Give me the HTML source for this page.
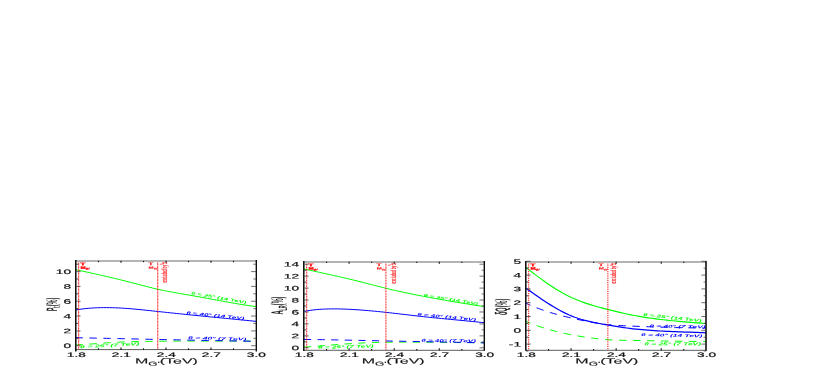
<!DOCTYPE html>
<html><head><meta charset="utf-8"><title>Figure</title>
<style>html,body{margin:0;padding:0;background:#fff;}body{width:817px;height:382px;overflow:hidden;font-family:"Liberation Sans",sans-serif;}svg{display:block;}</style>
</head><body>
<svg width="817" height="382" viewBox="0 0 817 382" text-rendering="geometricPrecision" font-family="'Liberation Sans', sans-serif">
<rect width="817" height="382" fill="#fff"/>
<defs><filter id="bl" x="-5%" y="-5%" width="110%" height="110%" color-interpolation-filters="sRGB"><feGaussianBlur stdDeviation="0.3"/></filter></defs>
<g filter="url(#bl)">
<g id="chart0">
<clipPath id="cp0"><rect x="76" y="261.35" width="180" height="88.25"/></clipPath>
<g clip-path="url(#cp0)" fill="none">
<path d="M76.00,269.75 L79.05,270.40 L82.10,271.05 L85.15,271.71 L88.20,272.37 L91.25,273.04 L94.31,273.72 L97.36,274.41 L100.41,275.10 L103.46,275.80 L106.51,276.51 L109.56,277.22 L112.61,277.94 L115.66,278.67 L118.71,279.41 L121.76,280.16 L124.81,280.92 L127.86,281.68 L130.92,282.45 L133.97,283.23 L137.02,284.02 L140.07,284.82 L143.12,285.62 L146.17,286.41 L149.22,287.19 L152.27,287.95 L155.32,288.68 L158.37,289.38 L161.42,290.04 L164.47,290.67 L167.53,291.28 L170.58,291.86 L173.63,292.42 L176.68,292.97 L179.73,293.50 L182.78,294.02 L185.83,294.54 L188.88,295.06 L191.93,295.58 L194.98,296.11 L198.03,296.65 L201.08,297.20 L204.14,297.76 L207.19,298.32 L210.24,298.89 L213.29,299.46 L216.34,300.03 L219.39,300.60 L222.44,301.16 L225.49,301.73 L228.54,302.28 L231.59,302.82 L234.64,303.36 L237.69,303.88 L240.75,304.38 L243.80,304.87 L246.85,305.33 L249.90,305.78 L252.95,306.21 L256.00,306.60" stroke="#00ff00" stroke-width="1.0"/>
<path d="M76.00,309.92 L79.05,309.44 L82.10,309.01 L85.15,308.65 L88.20,308.34 L91.25,308.10 L94.31,307.90 L97.36,307.76 L100.41,307.66 L103.46,307.61 L106.51,307.61 L109.56,307.64 L112.61,307.71 L115.66,307.82 L118.71,307.96 L121.76,308.12 L124.81,308.32 L127.86,308.54 L130.92,308.78 L133.97,309.04 L137.02,309.32 L140.07,309.62 L143.12,309.92 L146.17,310.24 L149.22,310.56 L152.27,310.89 L155.32,311.22 L158.37,311.55 L161.42,311.87 L164.47,312.20 L167.53,312.52 L170.58,312.84 L173.63,313.16 L176.68,313.48 L179.73,313.80 L182.78,314.11 L185.83,314.42 L188.88,314.73 L191.93,315.04 L194.98,315.35 L198.03,315.66 L201.08,315.96 L204.14,316.26 L207.19,316.56 L210.24,316.86 L213.29,317.16 L216.34,317.46 L219.39,317.76 L222.44,318.05 L225.49,318.35 L228.54,318.65 L231.59,318.95 L234.64,319.24 L237.69,319.54 L240.75,319.84 L243.80,320.14 L246.85,320.44 L249.90,320.74 L252.95,321.05 L256.00,321.35" stroke="#0000ff" stroke-width="1.0"/>
<path d="M76.00,344.96 L79.05,344.79 L82.10,344.61 L85.15,344.42 L88.20,344.21 L91.25,344.00 L94.31,343.78 L97.36,343.56 L100.41,343.34 L103.46,343.12 L106.51,342.91 L109.56,342.71 L112.61,342.52 L115.66,342.34 L118.71,342.18 L121.76,342.04 L124.81,341.92 L127.86,341.81 L130.92,341.73 L133.97,341.65 L137.02,341.59 L140.07,341.53 L143.12,341.48 L146.17,341.43 L149.22,341.39 L152.27,341.34 L155.32,341.30 L158.37,341.26 L161.42,341.23 L164.47,341.20 L167.53,341.17 L170.58,341.14 L173.63,341.12 L176.68,341.10 L179.73,341.08 L182.78,341.07 L185.83,341.05 L188.88,341.04 L191.93,341.04 L194.98,341.03 L198.03,341.03 L201.08,341.03 L204.14,341.03 L207.19,341.03 L210.24,341.03 L213.29,341.03 L216.34,341.04 L219.39,341.04 L222.44,341.05 L225.49,341.06 L228.54,341.06 L231.59,341.07 L234.64,341.08 L237.69,341.08 L240.75,341.09 L243.80,341.09 L246.85,341.10 L249.90,341.10 L252.95,341.10 L256.00,341.11" stroke="#00ff00" stroke-width="1.0" stroke-dasharray="7.4 6.6" stroke-dashoffset="0.6"/>
<path d="M76.00,337.70 L79.05,337.76 L82.10,337.83 L85.15,337.89 L88.20,337.96 L91.25,338.02 L94.31,338.09 L97.36,338.15 L100.41,338.22 L103.46,338.28 L106.51,338.35 L109.56,338.41 L112.61,338.48 L115.66,338.55 L118.71,338.61 L121.76,338.68 L124.81,338.74 L127.86,338.81 L130.92,338.87 L133.97,338.94 L137.02,339.00 L140.07,339.07 L143.12,339.14 L146.17,339.20 L149.22,339.27 L152.27,339.33 L155.32,339.39 L158.37,339.46 L161.42,339.52 L164.47,339.59 L167.53,339.65 L170.58,339.71 L173.63,339.77 L176.68,339.84 L179.73,339.90 L182.78,339.96 L185.83,340.02 L188.88,340.08 L191.93,340.14 L194.98,340.20 L198.03,340.26 L201.08,340.32 L204.14,340.38 L207.19,340.44 L210.24,340.50 L213.29,340.56 L216.34,340.61 L219.39,340.67 L222.44,340.73 L225.49,340.78 L228.54,340.84 L231.59,340.90 L234.64,340.95 L237.69,341.01 L240.75,341.06 L243.80,341.12 L246.85,341.17 L249.90,341.22 L252.95,341.28 L256.00,341.33" stroke="#0000ff" stroke-width="1.0" stroke-dasharray="7.4 6.6" stroke-dashoffset="0.6"/>
</g>
<line x1="78.70" y1="261.35" x2="78.70" y2="349.6" stroke="#ff0000" stroke-width="1.0" stroke-dasharray="1 0.45"/>
<line x1="157.75" y1="261.35" x2="157.75" y2="349.6" stroke="#ff0000" stroke-width="1.0" stroke-dasharray="1 0.45"/>
<text transform="translate(80.20,265.25) rotate(0.03) scale(2.2,1)" font-size="3.8" fill="#ff0000" text-anchor="start" font-weight="bold"  stroke="#ff0000" stroke-width="0.25" vector-effect="non-scaling-stroke">T</text>
<text transform="translate(80.50,268.65) rotate(0.03) scale(1.8,1)" font-size="3.4" fill="#ff0000" text-anchor="start" font-weight="bold"  stroke="#ff0000" stroke-width="0.25" vector-effect="non-scaling-stroke">M<tspan font-size="2.4" dy="0.9">G'</tspan></text>
<text transform="translate(148.25,265.25) rotate(0.03) scale(2.2,1)" font-size="3.8" fill="#ff0000" text-anchor="start" font-weight="bold"  stroke="#ff0000" stroke-width="0.08" vector-effect="non-scaling-stroke">T</text>
<text transform="translate(148.55,268.65) rotate(0.03) scale(1.8,1)" font-size="3.4" fill="#ff0000" text-anchor="start" font-weight="bold"  stroke="#ff0000" stroke-width="0.08" vector-effect="non-scaling-stroke">M<tspan font-size="2.4" dy="0.9">G'</tspan></text>
<text transform="translate(167.05,272.35) scale(2.3,1) rotate(-90)" font-size="3.3" text-anchor="middle" fill="#ff0000" stroke="#ff0000" stroke-width="0.08">excluded by tt</text>
<line x1="159.75000000000003" y1="264.35" x2="162.75000000000003" y2="263.95000000000005" stroke="#ff0000" stroke-width="0.6"/>
<line x1="76" y1="261.05" x2="256" y2="261.05" stroke="#b4b4b4" stroke-width="1.9"/>
<line x1="76" y1="349.6" x2="256" y2="349.6" stroke="#484848" stroke-width="0.9"/>
<line x1="75.8" y1="260.1" x2="75.8" y2="351.40000000000003" stroke="#000" stroke-width="1.45"/>
<line x1="256.3" y1="260.1" x2="256.3" y2="351.5" stroke="#000" stroke-width="1.3"/>
<text transform="translate(76.30,357.10) rotate(0.03) scale(2.1,1)" font-size="6.5" fill="#111" text-anchor="middle" font-weight="normal"  stroke="#111" stroke-width="0.2" vector-effect="non-scaling-stroke">1.8</text>
<line x1="98.50" y1="349.90000000000003" x2="98.50" y2="348.3" stroke="#111" stroke-width="1.1"/>
<line x1="98.50" y1="260.85" x2="98.50" y2="262.15000000000003" stroke="#111" stroke-width="1.1"/>
<line x1="121.00" y1="349.90000000000003" x2="121.00" y2="347.6" stroke="#111" stroke-width="1.1"/>
<line x1="121.00" y1="260.85" x2="121.00" y2="262.85" stroke="#111" stroke-width="1.1"/>
<text transform="translate(121.30,357.10) rotate(0.03) scale(2.1,1)" font-size="6.5" fill="#111" text-anchor="middle" font-weight="normal"  stroke="#111" stroke-width="0.2" vector-effect="non-scaling-stroke">2.1</text>
<line x1="143.50" y1="349.90000000000003" x2="143.50" y2="348.3" stroke="#111" stroke-width="1.1"/>
<line x1="143.50" y1="260.85" x2="143.50" y2="262.15000000000003" stroke="#111" stroke-width="1.1"/>
<line x1="166.00" y1="349.90000000000003" x2="166.00" y2="347.6" stroke="#111" stroke-width="1.1"/>
<line x1="166.00" y1="260.85" x2="166.00" y2="262.85" stroke="#111" stroke-width="1.1"/>
<text transform="translate(166.30,357.10) rotate(0.03) scale(2.1,1)" font-size="6.5" fill="#111" text-anchor="middle" font-weight="normal"  stroke="#111" stroke-width="0.2" vector-effect="non-scaling-stroke">2.4</text>
<line x1="188.50" y1="349.90000000000003" x2="188.50" y2="348.3" stroke="#111" stroke-width="1.1"/>
<line x1="188.50" y1="260.85" x2="188.50" y2="262.15000000000003" stroke="#111" stroke-width="1.1"/>
<line x1="211.00" y1="349.90000000000003" x2="211.00" y2="347.6" stroke="#111" stroke-width="1.1"/>
<line x1="211.00" y1="260.85" x2="211.00" y2="262.85" stroke="#111" stroke-width="1.1"/>
<text transform="translate(211.30,357.10) rotate(0.03) scale(2.1,1)" font-size="6.5" fill="#111" text-anchor="middle" font-weight="normal"  stroke="#111" stroke-width="0.2" vector-effect="non-scaling-stroke">2.7</text>
<line x1="233.50" y1="349.90000000000003" x2="233.50" y2="348.3" stroke="#111" stroke-width="1.1"/>
<line x1="233.50" y1="260.85" x2="233.50" y2="262.15000000000003" stroke="#111" stroke-width="1.1"/>
<text transform="translate(256.30,357.10) rotate(0.03) scale(2.1,1)" font-size="6.5" fill="#111" text-anchor="middle" font-weight="normal"  stroke="#111" stroke-width="0.2" vector-effect="non-scaling-stroke">3.0</text>
<line x1="76" y1="345.70" x2="80.6" y2="345.70" stroke="#4a4a4a" stroke-width="0.8"/>
<line x1="256" y1="345.70" x2="251.1" y2="345.70" stroke="#333" stroke-width="0.7"/>
<text transform="translate(71.00,348.10) rotate(0.03) scale(2.1,1)" font-size="6.5" fill="#111" text-anchor="end" font-weight="normal"  stroke="#111" stroke-width="0.2" vector-effect="non-scaling-stroke">0</text>
<line x1="76" y1="338.29" x2="78.4" y2="338.29" stroke="#222" stroke-width="0.8"/>
<line x1="256" y1="338.29" x2="253.29999999999998" y2="338.29" stroke="#333" stroke-width="0.7"/>
<line x1="76" y1="330.88" x2="80.6" y2="330.88" stroke="#4a4a4a" stroke-width="0.8"/>
<line x1="256" y1="330.88" x2="251.1" y2="330.88" stroke="#333" stroke-width="0.7"/>
<text transform="translate(71.00,333.28) rotate(0.03) scale(2.1,1)" font-size="6.5" fill="#111" text-anchor="end" font-weight="normal"  stroke="#111" stroke-width="0.2" vector-effect="non-scaling-stroke">2</text>
<line x1="76" y1="323.47" x2="78.4" y2="323.47" stroke="#222" stroke-width="0.8"/>
<line x1="256" y1="323.47" x2="253.29999999999998" y2="323.47" stroke="#333" stroke-width="0.7"/>
<line x1="76" y1="316.06" x2="80.6" y2="316.06" stroke="#4a4a4a" stroke-width="0.8"/>
<line x1="256" y1="316.06" x2="251.1" y2="316.06" stroke="#333" stroke-width="0.7"/>
<text transform="translate(71.00,318.46) rotate(0.03) scale(2.1,1)" font-size="6.5" fill="#111" text-anchor="end" font-weight="normal"  stroke="#111" stroke-width="0.2" vector-effect="non-scaling-stroke">4</text>
<line x1="76" y1="308.65" x2="78.4" y2="308.65" stroke="#222" stroke-width="0.8"/>
<line x1="256" y1="308.65" x2="253.29999999999998" y2="308.65" stroke="#333" stroke-width="0.7"/>
<line x1="76" y1="301.24" x2="80.6" y2="301.24" stroke="#4a4a4a" stroke-width="0.8"/>
<line x1="256" y1="301.24" x2="251.1" y2="301.24" stroke="#333" stroke-width="0.7"/>
<text transform="translate(71.00,303.64) rotate(0.03) scale(2.1,1)" font-size="6.5" fill="#111" text-anchor="end" font-weight="normal"  stroke="#111" stroke-width="0.2" vector-effect="non-scaling-stroke">6</text>
<line x1="76" y1="293.83" x2="78.4" y2="293.83" stroke="#222" stroke-width="0.8"/>
<line x1="256" y1="293.83" x2="253.29999999999998" y2="293.83" stroke="#333" stroke-width="0.7"/>
<line x1="76" y1="286.42" x2="80.6" y2="286.42" stroke="#4a4a4a" stroke-width="0.8"/>
<line x1="256" y1="286.42" x2="251.1" y2="286.42" stroke="#333" stroke-width="0.7"/>
<text transform="translate(71.00,288.82) rotate(0.03) scale(2.1,1)" font-size="6.5" fill="#111" text-anchor="end" font-weight="normal"  stroke="#111" stroke-width="0.2" vector-effect="non-scaling-stroke">8</text>
<line x1="76" y1="279.01" x2="78.4" y2="279.01" stroke="#222" stroke-width="0.8"/>
<line x1="256" y1="279.01" x2="253.29999999999998" y2="279.01" stroke="#333" stroke-width="0.7"/>
<line x1="76" y1="271.60" x2="80.6" y2="271.60" stroke="#4a4a4a" stroke-width="0.8"/>
<line x1="256" y1="271.60" x2="251.1" y2="271.60" stroke="#333" stroke-width="0.7"/>
<text transform="translate(71.00,274.00) rotate(0.03) scale(2.1,1)" font-size="6.5" fill="#111" text-anchor="end" font-weight="normal"  stroke="#111" stroke-width="0.2" vector-effect="non-scaling-stroke">10</text>
<line x1="76" y1="264.19" x2="78.4" y2="264.19" stroke="#222" stroke-width="0.8"/>
<line x1="256" y1="264.19" x2="253.29999999999998" y2="264.19" stroke="#333" stroke-width="0.7"/>
<text transform="translate(166.40,363.45) rotate(0.03) scale(2.16,1)" font-size="7.4" fill="#111" text-anchor="middle" font-weight="normal"  stroke="#111" stroke-width="0.12" vector-effect="non-scaling-stroke">M<tspan font-size="5.5" dy="2.1">G'</tspan><tspan dy="-2.1">(TeV)</tspan></text>
<text transform="translate(57.00,304.48) scale(2.7,1) rotate(-90)" font-size="5.6" font-weight="bold" text-anchor="middle" fill="#222">P<tspan font-size="4" dy="1.2">t</tspan><tspan dy="-1.2">(%)</tspan></text>
<text transform="translate(218.50,299.00) rotate(10) scale(1.9073569482288828,1)" font-size="4.0" fill="#00ff00" text-anchor="middle" font-weight="bold" font-style="italic" >θ = 25° (14 TeV)</text>
<text transform="translate(215.10,316.80) rotate(5.7) scale(1.9822888283378748,1)" font-size="4.0" fill="#0000ff" text-anchor="middle" font-weight="bold" font-style="italic" >θ = 40° (14 TeV)</text>
<text transform="translate(217.20,339.80) rotate(1.5) scale(2.152122641509434,1)" font-size="4.0" fill="#0000ff" text-anchor="middle" font-weight="bold" font-style="italic" >θ = 40° (7 TeV)</text>
<text transform="translate(109.70,346.70) rotate(-3) scale(2.1852889150943398,1)" font-size="4.0" fill="#00ff00" text-anchor="middle" font-weight="bold" font-style="italic" >θ = 25° (7 TeV)</text>
</g>
<g id="chart1">
<clipPath id="cp1"><rect x="304" y="262.25" width="180.39999999999998" height="88.05000000000001"/></clipPath>
<g clip-path="url(#cp1)" fill="none">
<path d="M304.00,269.00 L307.06,269.65 L310.12,270.31 L313.17,270.97 L316.23,271.63 L319.29,272.29 L322.35,272.96 L325.40,273.63 L328.46,274.31 L331.52,274.99 L334.58,275.68 L337.63,276.37 L340.69,277.07 L343.75,277.78 L346.81,278.50 L349.86,279.22 L352.92,279.95 L355.98,280.70 L359.04,281.45 L362.09,282.21 L365.15,282.99 L368.21,283.77 L371.27,284.56 L374.33,285.35 L377.38,286.14 L380.44,286.92 L383.50,287.68 L386.56,288.44 L389.61,289.17 L392.67,289.88 L395.73,290.58 L398.79,291.27 L401.84,291.93 L404.90,292.59 L407.96,293.23 L411.02,293.86 L414.07,294.47 L417.13,295.08 L420.19,295.68 L423.25,296.26 L426.31,296.84 L429.36,297.42 L432.42,297.98 L435.48,298.54 L438.54,299.09 L441.59,299.64 L444.65,300.17 L447.71,300.70 L450.77,301.23 L453.82,301.75 L456.88,302.26 L459.94,302.76 L463.00,303.26 L466.05,303.76 L469.11,304.24 L472.17,304.73 L475.23,305.21 L478.28,305.68 L481.34,306.14 L484.40,306.61" stroke="#00ff00" stroke-width="1.0"/>
<path d="M304.00,311.38 L307.06,310.85 L310.12,310.38 L313.17,309.99 L316.23,309.66 L319.29,309.40 L322.35,309.19 L325.40,309.04 L328.46,308.94 L331.52,308.88 L334.58,308.87 L337.63,308.90 L340.69,308.97 L343.75,309.06 L346.81,309.19 L349.86,309.33 L352.92,309.50 L355.98,309.69 L359.04,309.89 L362.09,310.12 L365.15,310.36 L368.21,310.62 L371.27,310.89 L374.33,311.17 L377.38,311.47 L380.44,311.78 L383.50,312.10 L386.56,312.43 L389.61,312.77 L392.67,313.11 L395.73,313.46 L398.79,313.82 L401.84,314.18 L404.90,314.53 L407.96,314.89 L411.02,315.25 L414.07,315.61 L417.13,315.96 L420.19,316.31 L423.25,316.64 L426.31,316.98 L429.36,317.30 L432.42,317.61 L435.48,317.92 L438.54,318.23 L441.59,318.53 L444.65,318.82 L447.71,319.11 L450.77,319.40 L453.82,319.69 L456.88,319.98 L459.94,320.27 L463.00,320.56 L466.05,320.86 L469.11,321.16 L472.17,321.46 L475.23,321.76 L478.28,322.08 L481.34,322.40 L484.40,322.73" stroke="#0000ff" stroke-width="1.0"/>
<path d="M304.00,347.20 L307.06,346.96 L310.12,346.72 L313.17,346.48 L316.23,346.23 L319.29,345.99 L322.35,345.74 L325.40,345.49 L328.46,345.25 L331.52,345.01 L334.58,344.78 L337.63,344.55 L340.69,344.32 L343.75,344.10 L346.81,343.89 L349.86,343.69 L352.92,343.50 L355.98,343.32 L359.04,343.16 L362.09,343.00 L365.15,342.86 L368.21,342.73 L371.27,342.62 L374.33,342.52 L377.38,342.43 L380.44,342.35 L383.50,342.28 L386.56,342.23 L389.61,342.18 L392.67,342.14 L395.73,342.11 L398.79,342.09 L401.84,342.08 L404.90,342.07 L407.96,342.07 L411.02,342.08 L414.07,342.09 L417.13,342.10 L420.19,342.12 L423.25,342.14 L426.31,342.17 L429.36,342.20 L432.42,342.23 L435.48,342.26 L438.54,342.30 L441.59,342.33 L444.65,342.37 L447.71,342.41 L450.77,342.44 L453.82,342.48 L456.88,342.51 L459.94,342.54 L463.00,342.57 L466.05,342.60 L469.11,342.62 L472.17,342.64 L475.23,342.65 L478.28,342.66 L481.34,342.67 L484.40,342.67" stroke="#00ff00" stroke-width="1.0" stroke-dasharray="7.2 6.4" stroke-dashoffset="0"/>
<path d="M304.00,339.44 L307.06,339.47 L310.12,339.51 L313.17,339.54 L316.23,339.58 L319.29,339.63 L322.35,339.67 L325.40,339.72 L328.46,339.77 L331.52,339.82 L334.58,339.88 L337.63,339.93 L340.69,339.99 L343.75,340.05 L346.81,340.11 L349.86,340.17 L352.92,340.24 L355.98,340.30 L359.04,340.37 L362.09,340.43 L365.15,340.50 L368.21,340.56 L371.27,340.63 L374.33,340.70 L377.38,340.76 L380.44,340.83 L383.50,340.89 L386.56,340.96 L389.61,341.02 L392.67,341.08 L395.73,341.14 L398.79,341.20 L401.84,341.26 L404.90,341.32 L407.96,341.38 L411.02,341.44 L414.07,341.49 L417.13,341.55 L420.19,341.60 L423.25,341.66 L426.31,341.71 L429.36,341.77 L432.42,341.82 L435.48,341.88 L438.54,341.94 L441.59,341.99 L444.65,342.05 L447.71,342.11 L450.77,342.17 L453.82,342.23 L456.88,342.29 L459.94,342.35 L463.00,342.41 L466.05,342.48 L469.11,342.54 L472.17,342.61 L475.23,342.68 L478.28,342.75 L481.34,342.83 L484.40,342.90" stroke="#0000ff" stroke-width="1.0" stroke-dasharray="7.2 6.4" stroke-dashoffset="0"/>
</g>
<line x1="306.71" y1="262.25" x2="306.71" y2="350.3" stroke="#ff0000" stroke-width="1.0" stroke-dasharray="1 0.6"/>
<line x1="385.93" y1="262.25" x2="385.93" y2="350.3" stroke="#ff0000" stroke-width="1.0" stroke-dasharray="1 0.6"/>
<text transform="translate(308.21,266.15) rotate(0.03) scale(2.2,1)" font-size="3.8" fill="#ff0000" text-anchor="start" font-weight="bold"  stroke="#ff0000" stroke-width="0.25" vector-effect="non-scaling-stroke">T</text>
<text transform="translate(308.51,269.55) rotate(0.03) scale(1.8,1)" font-size="3.4" fill="#ff0000" text-anchor="start" font-weight="bold"  stroke="#ff0000" stroke-width="0.25" vector-effect="non-scaling-stroke">M<tspan font-size="2.4" dy="0.9">G'</tspan></text>
<text transform="translate(376.43,266.15) rotate(0.03) scale(2.2,1)" font-size="3.8" fill="#ff0000" text-anchor="start" font-weight="bold"  stroke="#ff0000" stroke-width="0.08" vector-effect="non-scaling-stroke">T</text>
<text transform="translate(376.73,269.55) rotate(0.03) scale(1.8,1)" font-size="3.4" fill="#ff0000" text-anchor="start" font-weight="bold"  stroke="#ff0000" stroke-width="0.08" vector-effect="non-scaling-stroke">M<tspan font-size="2.4" dy="0.9">G'</tspan></text>
<text transform="translate(395.83,273.25) scale(2.3,1) rotate(-90)" font-size="3.3" text-anchor="middle" fill="#ff0000" stroke="#ff0000" stroke-width="0.08">excluded by tt</text>
<line x1="387.9316666666667" y1="265.25" x2="390.9316666666667" y2="264.85" stroke="#ff0000" stroke-width="0.6"/>
<line x1="304" y1="261.95" x2="484.4" y2="261.95" stroke="#b4b4b4" stroke-width="1.9"/>
<line x1="304" y1="350.3" x2="484.4" y2="350.3" stroke="#484848" stroke-width="0.9"/>
<line x1="303.8" y1="261.0" x2="303.8" y2="351.1" stroke="#000" stroke-width="1.45"/>
<line x1="484.3" y1="261.0" x2="484.3" y2="350.7" stroke="#000" stroke-width="1.35"/>
<text transform="translate(304.30,357.10) rotate(0.03) scale(2.1,1)" font-size="6.5" fill="#111" text-anchor="middle" font-weight="normal"  stroke="#111" stroke-width="0.2" vector-effect="non-scaling-stroke">1.8</text>
<line x1="326.55" y1="350.6" x2="326.55" y2="349.0" stroke="#111" stroke-width="1.1"/>
<line x1="326.55" y1="261.75" x2="326.55" y2="263.05" stroke="#111" stroke-width="1.1"/>
<line x1="349.10" y1="350.6" x2="349.10" y2="348.3" stroke="#111" stroke-width="1.1"/>
<line x1="349.10" y1="261.75" x2="349.10" y2="263.75" stroke="#111" stroke-width="1.1"/>
<text transform="translate(349.40,357.10) rotate(0.03) scale(2.1,1)" font-size="6.5" fill="#111" text-anchor="middle" font-weight="normal"  stroke="#111" stroke-width="0.2" vector-effect="non-scaling-stroke">2.1</text>
<line x1="371.65" y1="350.6" x2="371.65" y2="349.0" stroke="#111" stroke-width="1.1"/>
<line x1="371.65" y1="261.75" x2="371.65" y2="263.05" stroke="#111" stroke-width="1.1"/>
<line x1="394.20" y1="350.6" x2="394.20" y2="348.3" stroke="#111" stroke-width="1.1"/>
<line x1="394.20" y1="261.75" x2="394.20" y2="263.75" stroke="#111" stroke-width="1.1"/>
<text transform="translate(394.50,357.10) rotate(0.03) scale(2.1,1)" font-size="6.5" fill="#111" text-anchor="middle" font-weight="normal"  stroke="#111" stroke-width="0.2" vector-effect="non-scaling-stroke">2.4</text>
<line x1="416.75" y1="350.6" x2="416.75" y2="349.0" stroke="#111" stroke-width="1.1"/>
<line x1="416.75" y1="261.75" x2="416.75" y2="263.05" stroke="#111" stroke-width="1.1"/>
<line x1="439.30" y1="350.6" x2="439.30" y2="348.3" stroke="#111" stroke-width="1.1"/>
<line x1="439.30" y1="261.75" x2="439.30" y2="263.75" stroke="#111" stroke-width="1.1"/>
<text transform="translate(439.60,357.10) rotate(0.03) scale(2.1,1)" font-size="6.5" fill="#111" text-anchor="middle" font-weight="normal"  stroke="#111" stroke-width="0.2" vector-effect="non-scaling-stroke">2.7</text>
<line x1="461.85" y1="350.6" x2="461.85" y2="349.0" stroke="#111" stroke-width="1.1"/>
<line x1="461.85" y1="261.75" x2="461.85" y2="263.05" stroke="#111" stroke-width="1.1"/>
<text transform="translate(484.70,357.10) rotate(0.03) scale(2.1,1)" font-size="6.5" fill="#111" text-anchor="middle" font-weight="normal"  stroke="#111" stroke-width="0.2" vector-effect="non-scaling-stroke">3.0</text>
<line x1="304" y1="347.80" x2="308.6" y2="347.80" stroke="#4a4a4a" stroke-width="0.8"/>
<line x1="484.4" y1="347.80" x2="479.49999999999994" y2="347.80" stroke="#333" stroke-width="0.7"/>
<text transform="translate(299.00,350.20) rotate(0.03) scale(2.1,1)" font-size="6.5" fill="#111" text-anchor="end" font-weight="normal"  stroke="#111" stroke-width="0.2" vector-effect="non-scaling-stroke">0</text>
<line x1="304" y1="341.83" x2="306.4" y2="341.83" stroke="#222" stroke-width="0.8"/>
<line x1="484.4" y1="341.83" x2="481.7" y2="341.83" stroke="#333" stroke-width="0.7"/>
<line x1="304" y1="335.86" x2="308.6" y2="335.86" stroke="#4a4a4a" stroke-width="0.8"/>
<line x1="484.4" y1="335.86" x2="479.49999999999994" y2="335.86" stroke="#333" stroke-width="0.7"/>
<text transform="translate(299.00,338.26) rotate(0.03) scale(2.1,1)" font-size="6.5" fill="#111" text-anchor="end" font-weight="normal"  stroke="#111" stroke-width="0.2" vector-effect="non-scaling-stroke">2</text>
<line x1="304" y1="329.89" x2="306.4" y2="329.89" stroke="#222" stroke-width="0.8"/>
<line x1="484.4" y1="329.89" x2="481.7" y2="329.89" stroke="#333" stroke-width="0.7"/>
<line x1="304" y1="323.92" x2="308.6" y2="323.92" stroke="#4a4a4a" stroke-width="0.8"/>
<line x1="484.4" y1="323.92" x2="479.49999999999994" y2="323.92" stroke="#333" stroke-width="0.7"/>
<text transform="translate(299.00,326.32) rotate(0.03) scale(2.1,1)" font-size="6.5" fill="#111" text-anchor="end" font-weight="normal"  stroke="#111" stroke-width="0.2" vector-effect="non-scaling-stroke">4</text>
<line x1="304" y1="317.95" x2="306.4" y2="317.95" stroke="#222" stroke-width="0.8"/>
<line x1="484.4" y1="317.95" x2="481.7" y2="317.95" stroke="#333" stroke-width="0.7"/>
<line x1="304" y1="311.98" x2="308.6" y2="311.98" stroke="#4a4a4a" stroke-width="0.8"/>
<line x1="484.4" y1="311.98" x2="479.49999999999994" y2="311.98" stroke="#333" stroke-width="0.7"/>
<text transform="translate(299.00,314.38) rotate(0.03) scale(2.1,1)" font-size="6.5" fill="#111" text-anchor="end" font-weight="normal"  stroke="#111" stroke-width="0.2" vector-effect="non-scaling-stroke">6</text>
<line x1="304" y1="306.01" x2="306.4" y2="306.01" stroke="#222" stroke-width="0.8"/>
<line x1="484.4" y1="306.01" x2="481.7" y2="306.01" stroke="#333" stroke-width="0.7"/>
<line x1="304" y1="300.04" x2="308.6" y2="300.04" stroke="#4a4a4a" stroke-width="0.8"/>
<line x1="484.4" y1="300.04" x2="479.49999999999994" y2="300.04" stroke="#333" stroke-width="0.7"/>
<text transform="translate(299.00,302.44) rotate(0.03) scale(2.1,1)" font-size="6.5" fill="#111" text-anchor="end" font-weight="normal"  stroke="#111" stroke-width="0.2" vector-effect="non-scaling-stroke">8</text>
<line x1="304" y1="294.07" x2="306.4" y2="294.07" stroke="#222" stroke-width="0.8"/>
<line x1="484.4" y1="294.07" x2="481.7" y2="294.07" stroke="#333" stroke-width="0.7"/>
<line x1="304" y1="288.10" x2="308.6" y2="288.10" stroke="#4a4a4a" stroke-width="0.8"/>
<line x1="484.4" y1="288.10" x2="479.49999999999994" y2="288.10" stroke="#333" stroke-width="0.7"/>
<text transform="translate(299.00,290.50) rotate(0.03) scale(2.1,1)" font-size="6.5" fill="#111" text-anchor="end" font-weight="normal"  stroke="#111" stroke-width="0.2" vector-effect="non-scaling-stroke">10</text>
<line x1="304" y1="282.13" x2="306.4" y2="282.13" stroke="#222" stroke-width="0.8"/>
<line x1="484.4" y1="282.13" x2="481.7" y2="282.13" stroke="#333" stroke-width="0.7"/>
<line x1="304" y1="276.16" x2="308.6" y2="276.16" stroke="#4a4a4a" stroke-width="0.8"/>
<line x1="484.4" y1="276.16" x2="479.49999999999994" y2="276.16" stroke="#333" stroke-width="0.7"/>
<text transform="translate(299.00,278.56) rotate(0.03) scale(2.1,1)" font-size="6.5" fill="#111" text-anchor="end" font-weight="normal"  stroke="#111" stroke-width="0.2" vector-effect="non-scaling-stroke">12</text>
<line x1="304" y1="270.19" x2="306.4" y2="270.19" stroke="#222" stroke-width="0.8"/>
<line x1="484.4" y1="270.19" x2="481.7" y2="270.19" stroke="#333" stroke-width="0.7"/>
<line x1="304" y1="264.22" x2="308.6" y2="264.22" stroke="#4a4a4a" stroke-width="0.8"/>
<line x1="484.4" y1="264.22" x2="479.49999999999994" y2="264.22" stroke="#333" stroke-width="0.7"/>
<text transform="translate(299.00,266.62) rotate(0.03) scale(2.1,1)" font-size="6.5" fill="#111" text-anchor="end" font-weight="normal"  stroke="#111" stroke-width="0.2" vector-effect="non-scaling-stroke">14</text>
<text transform="translate(393.20,363.45) rotate(0.03) scale(2.16,1)" font-size="7.4" fill="#111" text-anchor="middle" font-weight="normal"  stroke="#111" stroke-width="0.12" vector-effect="non-scaling-stroke">M<tspan font-size="5.5" dy="2.1">G'</tspan><tspan dy="-2.1">(TeV)</tspan></text>
<text transform="translate(283.10,305.57) scale(3.0,1) rotate(-90)" font-size="5.6" font-weight="bold" text-anchor="middle" fill="#222">A<tspan font-size="4" dy="1.2">LR</tspan><tspan dy="-1.2">(%)</tspan></text>
<text transform="translate(450.60,300.80) rotate(9) scale(1.869891008174387,1)" font-size="4.0" fill="#00ff00" text-anchor="middle" font-weight="bold" font-style="italic" >θ = 25° (14 TeV)</text>
<text transform="translate(446.50,318.20) rotate(5.4) scale(2.0061307901907357,1)" font-size="4.0" fill="#0000ff" text-anchor="middle" font-weight="bold" font-style="italic" >θ = 40° (14 TeV)</text>
<text transform="translate(448.50,342.00) rotate(0.5) scale(2.0157724056603774,1)" font-size="4.0" fill="#0000ff" text-anchor="middle" font-weight="bold" font-style="italic" >θ = 40° (7 TeV)</text>
<text transform="translate(345.80,348.10) rotate(-1.5) scale(2.0489386792452833,1)" font-size="4.0" fill="#00ff00" text-anchor="middle" font-weight="bold" font-style="italic" >θ = 25° (7 TeV)</text>
</g>
<g id="chart2">
<clipPath id="cp2"><rect x="526" y="262.25" width="180.29999999999995" height="88.05000000000001"/></clipPath>
<g clip-path="url(#cp2)" fill="none">
<path d="M526.00,321.33 L529.06,322.62 L532.11,323.84 L535.17,325.00 L538.22,326.11 L541.28,327.15 L544.34,328.14 L547.39,329.07 L550.45,329.95 L553.50,330.79 L556.56,331.57 L559.62,332.32 L562.67,333.02 L565.73,333.68 L568.78,334.31 L571.84,334.90 L574.89,335.45 L577.95,335.98 L581.01,336.48 L584.06,336.94 L587.12,337.39 L590.17,337.80 L593.23,338.19 L596.29,338.56 L599.34,338.91 L602.40,339.22 L605.45,339.50 L608.51,339.73 L611.57,339.91 L614.62,340.05 L617.68,340.15 L620.73,340.23 L623.79,340.29 L626.85,340.33 L629.90,340.38 L632.96,340.42 L636.01,340.47 L639.07,340.52 L642.13,340.57 L645.18,340.63 L648.24,340.68 L651.29,340.74 L654.35,340.80 L657.41,340.86 L660.46,340.91 L663.52,340.97 L666.57,341.03 L669.63,341.08 L672.68,341.13 L675.74,341.18 L678.80,341.23 L681.85,341.27 L684.91,341.32 L687.96,341.35 L691.02,341.39 L694.08,341.42 L697.13,341.44 L700.19,341.46 L703.24,341.47 L706.30,341.48" stroke="#00ff00" stroke-width="1.0" stroke-dasharray="7.4 6.6" stroke-dashoffset="2.5"/>
<path d="M526.00,267.51 L529.06,269.92 L532.11,272.29 L535.17,274.63 L538.22,276.91 L541.28,279.15 L544.34,281.34 L547.39,283.46 L550.45,285.52 L553.50,287.51 L556.56,289.42 L559.62,291.26 L562.67,293.01 L565.73,294.66 L568.78,296.23 L571.84,297.69 L574.89,299.05 L577.95,300.33 L581.01,301.51 L584.06,302.62 L587.12,303.66 L590.17,304.64 L593.23,305.56 L596.29,306.44 L599.34,307.27 L602.40,308.07 L605.45,308.85 L608.51,309.62 L611.57,310.38 L614.62,311.13 L617.68,311.87 L620.73,312.60 L623.79,313.30 L626.85,313.97 L629.90,314.62 L632.96,315.23 L636.01,315.81 L639.07,316.35 L642.13,316.87 L645.18,317.36 L648.24,317.83 L651.29,318.27 L654.35,318.68 L657.41,319.08 L660.46,319.45 L663.52,319.80 L666.57,320.14 L669.63,320.46 L672.68,320.76 L675.74,321.05 L678.80,321.33 L681.85,321.60 L684.91,321.86 L687.96,322.11 L691.02,322.35 L694.08,322.59 L697.13,322.83 L700.19,323.07 L703.24,323.30 L706.30,323.54" stroke="#00ff00" stroke-width="1.15"/>
<path d="M526.00,303.25 L529.06,304.66 L532.11,305.98 L535.17,307.23 L538.22,308.42 L541.28,309.53 L544.34,310.59 L547.39,311.59 L550.45,312.55 L553.50,313.45 L556.56,314.31 L559.62,315.13 L562.67,315.92 L565.73,316.68 L568.78,317.42 L571.84,318.13 L574.89,318.82 L577.95,319.49 L581.01,320.14 L584.06,320.77 L587.12,321.37 L590.17,321.95 L593.23,322.50 L596.29,323.02 L599.34,323.51 L602.40,323.96 L605.45,324.36 L608.51,324.71 L611.57,325.00 L614.62,325.25 L617.68,325.45 L620.73,325.63 L623.79,325.78 L626.85,325.91 L629.90,326.03 L632.96,326.15 L636.01,326.27 L639.07,326.39 L642.13,326.51 L645.18,326.62 L648.24,326.74 L651.29,326.85 L654.35,326.95 L657.41,327.06 L660.46,327.16 L663.52,327.25 L666.57,327.34 L669.63,327.43 L672.68,327.51 L675.74,327.58 L678.80,327.65 L681.85,327.71 L684.91,327.77 L687.96,327.82 L691.02,327.86 L694.08,327.90 L697.13,327.92 L700.19,327.94 L703.24,327.95 L706.30,327.95" stroke="#0000ff" stroke-width="1.0" stroke-dasharray="7.4 6.6" stroke-dashoffset="2.5"/>
<path d="M526.00,288.21 L529.06,290.38 L532.11,292.55 L535.17,294.70 L538.22,296.82 L541.28,298.91 L544.34,300.96 L547.39,302.96 L550.45,304.90 L553.50,306.78 L556.56,308.57 L559.62,310.28 L562.67,311.89 L565.73,313.40 L568.78,314.80 L571.84,316.08 L574.89,317.23 L577.95,318.28 L581.01,319.23 L584.06,320.10 L587.12,320.89 L590.17,321.61 L593.23,322.29 L596.29,322.92 L599.34,323.51 L602.40,324.08 L605.45,324.63 L608.51,325.16 L611.57,325.68 L614.62,326.19 L617.68,326.67 L620.73,327.14 L623.79,327.58 L626.85,328.00 L629.90,328.40 L632.96,328.76 L636.01,329.10 L639.07,329.41 L642.13,329.70 L645.18,329.96 L648.24,330.21 L651.29,330.43 L654.35,330.64 L657.41,330.83 L660.46,331.00 L663.52,331.16 L666.57,331.31 L669.63,331.44 L672.68,331.57 L675.74,331.69 L678.80,331.80 L681.85,331.91 L684.91,332.02 L687.96,332.12 L691.02,332.22 L694.08,332.33 L697.13,332.43 L700.19,332.54 L703.24,332.66 L706.30,332.78" stroke="#0000ff" stroke-width="1.25"/>
</g>
<line x1="528.70" y1="262.25" x2="528.70" y2="350.3" stroke="#ff0000" stroke-width="1.0" stroke-dasharray="1.2 1.0"/>
<line x1="607.89" y1="262.25" x2="607.89" y2="350.3" stroke="#ff0000" stroke-width="1.0" stroke-dasharray="1.2 1.0"/>
<text transform="translate(530.20,266.15) rotate(0.03) scale(2.2,1)" font-size="3.8" fill="#ff0000" text-anchor="start" font-weight="bold"  stroke="#ff0000" stroke-width="0.25" vector-effect="non-scaling-stroke">T</text>
<text transform="translate(530.50,269.55) rotate(0.03) scale(1.8,1)" font-size="3.4" fill="#ff0000" text-anchor="start" font-weight="bold"  stroke="#ff0000" stroke-width="0.25" vector-effect="non-scaling-stroke">M<tspan font-size="2.4" dy="0.9">G'</tspan></text>
<text transform="translate(598.39,266.15) rotate(0.03) scale(2.2,1)" font-size="3.8" fill="#ff0000" text-anchor="start" font-weight="bold"  stroke="#ff0000" stroke-width="0.08" vector-effect="non-scaling-stroke">T</text>
<text transform="translate(598.69,269.55) rotate(0.03) scale(1.8,1)" font-size="3.4" fill="#ff0000" text-anchor="start" font-weight="bold"  stroke="#ff0000" stroke-width="0.08" vector-effect="non-scaling-stroke">M<tspan font-size="2.4" dy="0.9">G'</tspan></text>
<text transform="translate(615.99,273.25) scale(2.3,1) rotate(-90)" font-size="3.3" text-anchor="middle" fill="#ff0000" stroke="#ff0000" stroke-width="0.08">excluded by tt</text>
<line x1="609.88625" y1="265.25" x2="612.88625" y2="264.85" stroke="#ff0000" stroke-width="0.6"/>
<line x1="526" y1="261.95" x2="706.3" y2="261.95" stroke="#b4b4b4" stroke-width="1.9"/>
<line x1="526" y1="350.3" x2="706.3" y2="350.3" stroke="#484848" stroke-width="0.9"/>
<line x1="525.8" y1="261.0" x2="525.8" y2="350.7" stroke="#000" stroke-width="1.45"/>
<line x1="706.0" y1="261.0" x2="706.0" y2="350.7" stroke="#000" stroke-width="1.5"/>
<text transform="translate(526.30,357.10) rotate(0.03) scale(2.1,1)" font-size="6.5" fill="#111" text-anchor="middle" font-weight="normal"  stroke="#111" stroke-width="0.2" vector-effect="non-scaling-stroke">1.8</text>
<line x1="548.54" y1="350.6" x2="548.54" y2="349.0" stroke="#111" stroke-width="1.1"/>
<line x1="548.54" y1="261.75" x2="548.54" y2="263.05" stroke="#111" stroke-width="1.1"/>
<line x1="571.08" y1="350.6" x2="571.08" y2="348.3" stroke="#111" stroke-width="1.1"/>
<line x1="571.08" y1="261.75" x2="571.08" y2="263.75" stroke="#111" stroke-width="1.1"/>
<text transform="translate(571.38,357.10) rotate(0.03) scale(2.1,1)" font-size="6.5" fill="#111" text-anchor="middle" font-weight="normal"  stroke="#111" stroke-width="0.2" vector-effect="non-scaling-stroke">2.1</text>
<line x1="593.61" y1="350.6" x2="593.61" y2="349.0" stroke="#111" stroke-width="1.1"/>
<line x1="593.61" y1="261.75" x2="593.61" y2="263.05" stroke="#111" stroke-width="1.1"/>
<line x1="616.15" y1="350.6" x2="616.15" y2="348.3" stroke="#111" stroke-width="1.1"/>
<line x1="616.15" y1="261.75" x2="616.15" y2="263.75" stroke="#111" stroke-width="1.1"/>
<text transform="translate(616.45,357.10) rotate(0.03) scale(2.1,1)" font-size="6.5" fill="#111" text-anchor="middle" font-weight="normal"  stroke="#111" stroke-width="0.2" vector-effect="non-scaling-stroke">2.4</text>
<line x1="638.69" y1="350.6" x2="638.69" y2="349.0" stroke="#111" stroke-width="1.1"/>
<line x1="638.69" y1="261.75" x2="638.69" y2="263.05" stroke="#111" stroke-width="1.1"/>
<line x1="661.23" y1="350.6" x2="661.23" y2="348.3" stroke="#111" stroke-width="1.1"/>
<line x1="661.23" y1="261.75" x2="661.23" y2="263.75" stroke="#111" stroke-width="1.1"/>
<text transform="translate(661.52,357.10) rotate(0.03) scale(2.1,1)" font-size="6.5" fill="#111" text-anchor="middle" font-weight="normal"  stroke="#111" stroke-width="0.2" vector-effect="non-scaling-stroke">2.7</text>
<line x1="683.76" y1="350.6" x2="683.76" y2="349.0" stroke="#111" stroke-width="1.1"/>
<line x1="683.76" y1="261.75" x2="683.76" y2="263.05" stroke="#111" stroke-width="1.1"/>
<text transform="translate(706.60,357.10) rotate(0.03) scale(2.1,1)" font-size="6.5" fill="#111" text-anchor="middle" font-weight="normal"  stroke="#111" stroke-width="0.2" vector-effect="non-scaling-stroke">3.0</text>
<line x1="526" y1="351.00" x2="528.4" y2="351.00" stroke="#222" stroke-width="0.8"/>
<line x1="706.3" y1="351.00" x2="703.6" y2="351.00" stroke="#333" stroke-width="0.7"/>
<line x1="526" y1="344.10" x2="530.6" y2="344.10" stroke="#333" stroke-width="0.8"/>
<line x1="706.3" y1="344.10" x2="701.4" y2="344.10" stroke="#333" stroke-width="0.7"/>
<text transform="translate(521.00,346.50) rotate(0.03) scale(2.1,1)" font-size="6.5" fill="#111" text-anchor="end" font-weight="normal"  stroke="#111" stroke-width="0.2" vector-effect="non-scaling-stroke">-1</text>
<line x1="526" y1="337.20" x2="528.4" y2="337.20" stroke="#222" stroke-width="0.8"/>
<line x1="706.3" y1="337.20" x2="703.6" y2="337.20" stroke="#333" stroke-width="0.7"/>
<line x1="526" y1="330.30" x2="530.6" y2="330.30" stroke="#333" stroke-width="0.8"/>
<line x1="706.3" y1="330.30" x2="701.4" y2="330.30" stroke="#333" stroke-width="0.7"/>
<text transform="translate(521.00,332.70) rotate(0.03) scale(2.1,1)" font-size="6.5" fill="#111" text-anchor="end" font-weight="normal"  stroke="#111" stroke-width="0.2" vector-effect="non-scaling-stroke">0</text>
<line x1="526" y1="323.40" x2="528.4" y2="323.40" stroke="#222" stroke-width="0.8"/>
<line x1="706.3" y1="323.40" x2="703.6" y2="323.40" stroke="#333" stroke-width="0.7"/>
<line x1="526" y1="316.50" x2="530.6" y2="316.50" stroke="#333" stroke-width="0.8"/>
<line x1="706.3" y1="316.50" x2="701.4" y2="316.50" stroke="#333" stroke-width="0.7"/>
<text transform="translate(521.00,318.90) rotate(0.03) scale(2.1,1)" font-size="6.5" fill="#111" text-anchor="end" font-weight="normal"  stroke="#111" stroke-width="0.2" vector-effect="non-scaling-stroke">1</text>
<line x1="526" y1="309.60" x2="528.4" y2="309.60" stroke="#222" stroke-width="0.8"/>
<line x1="706.3" y1="309.60" x2="703.6" y2="309.60" stroke="#333" stroke-width="0.7"/>
<line x1="526" y1="302.70" x2="530.6" y2="302.70" stroke="#333" stroke-width="0.8"/>
<line x1="706.3" y1="302.70" x2="701.4" y2="302.70" stroke="#333" stroke-width="0.7"/>
<text transform="translate(521.00,305.10) rotate(0.03) scale(2.1,1)" font-size="6.5" fill="#111" text-anchor="end" font-weight="normal"  stroke="#111" stroke-width="0.2" vector-effect="non-scaling-stroke">2</text>
<line x1="526" y1="295.80" x2="528.4" y2="295.80" stroke="#222" stroke-width="0.8"/>
<line x1="706.3" y1="295.80" x2="703.6" y2="295.80" stroke="#333" stroke-width="0.7"/>
<line x1="526" y1="288.90" x2="530.6" y2="288.90" stroke="#333" stroke-width="0.8"/>
<line x1="706.3" y1="288.90" x2="701.4" y2="288.90" stroke="#333" stroke-width="0.7"/>
<text transform="translate(521.00,291.30) rotate(0.03) scale(2.1,1)" font-size="6.5" fill="#111" text-anchor="end" font-weight="normal"  stroke="#111" stroke-width="0.2" vector-effect="non-scaling-stroke">3</text>
<line x1="526" y1="282.00" x2="528.4" y2="282.00" stroke="#222" stroke-width="0.8"/>
<line x1="706.3" y1="282.00" x2="703.6" y2="282.00" stroke="#333" stroke-width="0.7"/>
<line x1="526" y1="275.10" x2="530.6" y2="275.10" stroke="#333" stroke-width="0.8"/>
<line x1="706.3" y1="275.10" x2="701.4" y2="275.10" stroke="#333" stroke-width="0.7"/>
<text transform="translate(521.00,277.50) rotate(0.03) scale(2.1,1)" font-size="6.5" fill="#111" text-anchor="end" font-weight="normal"  stroke="#111" stroke-width="0.2" vector-effect="non-scaling-stroke">4</text>
<line x1="526" y1="268.20" x2="528.4" y2="268.20" stroke="#222" stroke-width="0.8"/>
<line x1="706.3" y1="268.20" x2="703.6" y2="268.20" stroke="#333" stroke-width="0.7"/>
<line x1="526" y1="261.30" x2="530.6" y2="261.30" stroke="#333" stroke-width="0.8"/>
<line x1="706.3" y1="261.30" x2="701.4" y2="261.30" stroke="#333" stroke-width="0.7"/>
<text transform="translate(521.00,263.70) rotate(0.03) scale(2.1,1)" font-size="6.5" fill="#111" text-anchor="end" font-weight="normal"  stroke="#111" stroke-width="0.2" vector-effect="non-scaling-stroke">5</text>
<text transform="translate(606.85,363.45) rotate(0.03) scale(2.16,1)" font-size="7.4" fill="#111" text-anchor="middle" font-weight="normal"  stroke="#111" stroke-width="0.12" vector-effect="non-scaling-stroke">M<tspan font-size="5.5" dy="2.1">G'</tspan><tspan dy="-2.1">(TeV)</tspan></text>
<text transform="translate(507.20,306.88) scale(3.0,1) rotate(-90)" font-size="5.6" font-weight="bold" text-anchor="middle" fill="#222">δQ(%)</text>
<text transform="translate(672.30,319.00) rotate(6.3) scale(1.9993188010899183,1)" font-size="4.0" fill="#00ff00" text-anchor="middle" font-weight="bold" font-style="italic" >θ = 25° (14 TeV)</text>
<text transform="translate(677.40,327.80) rotate(1) scale(2.063679245283019,1)" font-size="4.0" fill="#0000ff" text-anchor="middle" font-weight="bold" font-style="italic" >θ = 40° (7 TeV)</text>
<text transform="translate(671.60,336.70) rotate(1.3) scale(2.0844686648501365,1)" font-size="4.0" fill="#0000ff" text-anchor="middle" font-weight="bold" font-style="italic" >θ = 40° (14 TeV)</text>
<text transform="translate(672.60,345.30) rotate(0.03) scale(2.089475235849057,1)" font-size="4.0" fill="#00ff00" text-anchor="middle" font-weight="bold" font-style="italic" >θ = 25° (7 TeV)</text>
</g>
</g>
</svg>
</body></html>
